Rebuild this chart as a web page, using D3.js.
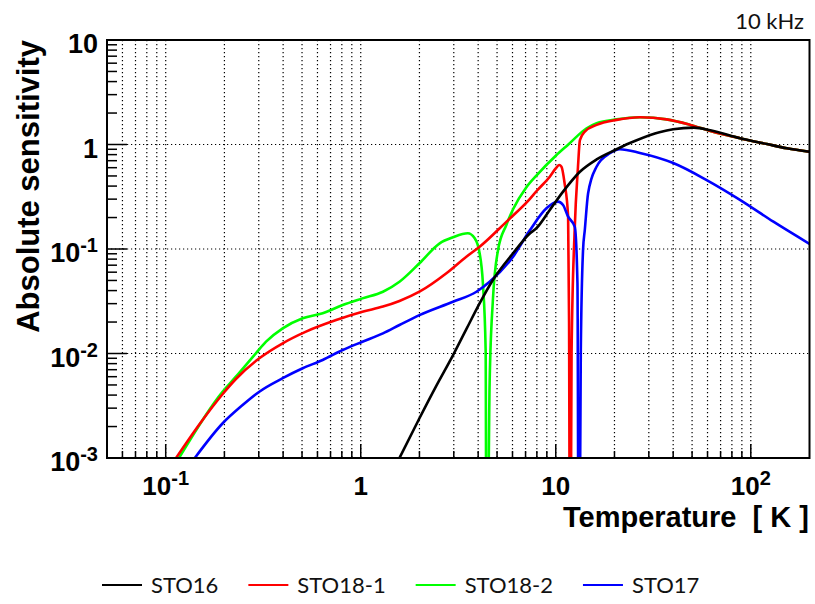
<!DOCTYPE html>
<html>
<head>
<meta charset="utf-8">
<title>Absolute sensitivity vs temperature</title>
<script src="https://cdn.jsdelivr.net/npm/d3@7"></script>
<style>
  body { margin: 0; background: #ffffff; }
  svg text { font-family: "Liberation Sans", Arial, Helvetica, sans-serif; }
  .legend text, .note { font-family: Lato, "Open Sans", sans-serif; }
</style>
</head>
<body>
<svg id="chart" width="815" height="604"></svg>
<script>
// sensitivity curves at 10 kHz, temperature in K
const seriesNames = ["STO16", "STO18-1", "STO18-2", "STO17"];
const seriesColors = ["#000000", "#ff0000", "#00ff00", "#0000ff"];

const sto16T = [1.58, 2.0, 2.44, 2.97, 3.48, 4.07, 4.76, 6.04, 7.36, 7.96, 9.32, 10.9, 13.3, 16.2, 20.5, 23, 26, 34, 40, 51, 62, 88, 121, 153, 200];
const sto16S = [0.001, 0.0024, 0.0049, 0.0096, 0.0171, 0.0302, 0.0505, 0.091, 0.141, 0.158, 0.236, 0.354, 0.549, 0.72, 0.90, 1.0, 1.10, 1.31, 1.40, 1.45, 1.37, 1.15, 1.01, 0.92, 0.853];

const sto181T = [0.113, 0.148, 0.196, 0.229, 0.302, 0.398, 0.524, 0.748, 1.02, 1.30, 1.58, 2.0, 2.75, 3.48, 4.07, 5.58, 7.35, 8.0, 9.32, 10.0, 10.4, 10.7, 11.1, 11.57, 11.7, 11.85, 12.05, 12.5, 13.0, 13.3, 14.1, 16.2, 20.5, 27, 37, 49, 62, 88, 121, 153, 200];
const sto181S = [0.001, 0.00207, 0.0041, 0.0057, 0.0090, 0.01253, 0.0162, 0.0209, 0.0251, 0.0281, 0.0318, 0.039, 0.0586, 0.0844, 0.105, 0.182, 0.300, 0.361, 0.492, 0.59, 0.637, 0.613, 0.425, 0.204, 0.02, 0.00001, 0.01, 0.152, 0.613, 1.10, 1.33, 1.54, 1.72, 1.82, 1.74, 1.54, 1.35, 1.15, 1.01, 0.92, 0.853];

const sto182T = [0.117, 0.196, 0.229, 0.290, 0.327, 0.398, 0.504, 0.638, 0.808, 1.02, 1.30, 1.58, 2.0, 2.54, 2.97, 3.54, 3.84, 4.07, 4.23, 4.37, 4.42, 4.58, 4.76, 5.06, 5.58, 6.04, 7.07, 8.0, 10.0, 11.6, 14.4, 16.2, 20.5, 27, 37, 49, 62, 88, 121, 153, 200];
const sto182S = [0.001, 0.00432, 0.0060, 0.01005, 0.01297, 0.0174, 0.0217, 0.0243, 0.0291, 0.0337, 0.039, 0.0486, 0.073, 0.1134, 0.1294, 0.1413, 0.1266, 0.091, 0.047, 0.0108, 0.00001, 0.0052, 0.0325, 0.098, 0.17, 0.24, 0.39, 0.51, 0.78, 1.0, 1.43, 1.6, 1.74, 1.82, 1.74, 1.54, 1.35, 1.15, 1.01, 0.92, 0.853];

const sto17T = [0.141, 0.196, 0.248, 0.302, 0.398, 0.504, 0.638, 0.808, 1.02, 1.30, 1.58, 2.0, 2.97, 3.92, 4.58, 6.04, 7.35, 8.96, 10.27, 10.9, 11.57, 12.52, 12.92, 13.13, 13.44, 13.8, 14.09, 14.65, 16.18, 18.94, 21.3, 27, 40, 59.4, 88.4, 130.6, 200];
const sto17S = [0.001, 0.00215, 0.00321, 0.00431, 0.0058, 0.00722, 0.00867, 0.0108, 0.01297, 0.0156, 0.01875, 0.0233, 0.0313, 0.039, 0.0486, 0.0844, 0.150, 0.245, 0.284, 0.264, 0.204, 0.163, 0.047, 0.00001, 0.0108, 0.0978, 0.152, 0.341, 0.613, 0.824, 0.90, 0.83, 0.665, 0.457, 0.294, 0.1825, 0.112];

const xTickValues = [0.1, 1, 10, 100];
const xTickLabels = ["10^-1", "1", "10", "10^2"];
const yTickValues = [0.001, 0.01, 0.1, 1, 10];
const yTickLabels = ["10^-3", "10^-2", "10^-1", "1", "10"];

window.onload = function() {
    const svg = d3.select("#chart");

    const plot = {left: 107, right: 809.5, top: 40, bottom: 458};

    const x = d3.scaleLog()
                .domain([0.05, 200])
                .range([plot.left, plot.right]);

    const y = d3.scaleLog()
                .domain([1e-3, 10])
                .range([plot.bottom, plot.top]);

    svg.append("rect")
       .attr("width", 815)
       .attr("height", 604)
       .attr("fill", "#ffffff");

    // every 1..9 step inside the x range, and 1..9 per decade on y
    const xSteps = [];
    [0.01, 0.1, 1, 10, 100].forEach(d => {
        for (let k = 1; k <= 9; k++) {
            const v = +(k * d).toPrecision(3);
            if (v > 0.05 && v < 200) xSteps.push(v);
        }
    });
    const ySteps = [];
    [0.001, 0.01, 0.1, 1].forEach(d => {
        for (let k = 1; k <= 9; k++) ySteps.push(+(k * d).toPrecision(3));
    });
    const isDecade = v => Math.abs(Math.log10(v) - Math.round(Math.log10(v))) < 1e-6;

    // dotted grid
    svg.append("g")
       .selectAll("line")
       .data(xSteps)
       .enter()
       .append("line")
       .attr("x1", d => x(d))
       .attr("x2", d => x(d))
       .attr("y1", plot.top)
       .attr("y2", plot.bottom)
       .attr("stroke", "#000")
       .attr("stroke-width", 1.2)
       .attr("stroke-dasharray", "1.2,2.8");

    svg.append("g")
       .selectAll("line")
       .data([0.01, 0.1, 1])
       .enter()
       .append("line")
       .attr("x1", plot.left)
       .attr("x2", plot.right)
       .attr("y1", d => y(d))
       .attr("y2", d => y(d))
       .attr("stroke", "#000")
       .attr("stroke-width", 1.2)
       .attr("stroke-dasharray", "1.2,2.8");

    // inward ticks on the bottom and left axes
    svg.append("g")
       .selectAll("line")
       .data(xSteps)
       .enter()
       .append("line")
       .attr("x1", d => x(d))
       .attr("x2", d => x(d))
       .attr("y1", plot.bottom)
       .attr("y2", d => plot.bottom - (isDecade(d) ? 14 : 7))
       .attr("stroke", "#000")
       .attr("stroke-width", 1.5);

    svg.append("g")
       .selectAll("line")
       .data(ySteps.filter(d => d > 0.001))
       .enter()
       .append("line")
       .attr("x1", plot.left)
       .attr("x2", d => plot.left + (isDecade(d) ? 20 : 10))
       .attr("y1", d => y(d))
       .attr("y2", d => y(d))
       .attr("stroke", "#000")
       .attr("stroke-width", 1.5);

    // curves
    svg.append("clipPath")
       .attr("id", "plot-clip")
       .append("rect")
       .attr("x", plot.left)
       .attr("y", plot.top)
       .attr("width", plot.right - plot.left)
       .attr("height", plot.bottom - plot.top);

    const series = [
        {name: seriesNames[0], color: seriesColors[0], T: sto16T, S: sto16S},
        {name: seriesNames[1], color: seriesColors[1], T: sto181T, S: sto181S},
        {name: seriesNames[2], color: seriesColors[2], T: sto182T, S: sto182S},
        {name: seriesNames[3], color: seriesColors[3], T: sto17T, S: sto17S}
    ];

    const line = d3.line()
                   .x(d => x(d[0]))
                   .y(d => y(d[1]))
                   .curve(d3.curveMonotoneX);

    const drawOrder = [2, 1, 3, 0];

    svg.append("g")
       .attr("clip-path", "url(#plot-clip)")
       .selectAll("path")
       .data(drawOrder.map(i => series[i]))
       .enter()
       .append("path")
       .attr("d", d => line(d.T.map((t, i) => [t, d.S[i]])))
       .attr("fill", "none")
       .attr("stroke", d => d.color)
       .attr("stroke-width", 2.6)
       .attr("stroke-linejoin", "round");

    // frame
    svg.append("rect")
       .attr("x", plot.left)
       .attr("y", plot.top)
       .attr("width", plot.right - plot.left)
       .attr("height", plot.bottom - plot.top)
       .attr("fill", "none")
       .attr("stroke", "#000")
       .attr("stroke-width", 2);

    // tick labels, "10^n" gets a raised exponent
    function powerLabel(sel, label) {
        const parts = label.split("^");
        sel.append("tspan").text(parts[0]);
        if (parts.length > 1) {
            sel.append("tspan")
               .attr("dy", -10)
               .attr("font-size", 20)
               .text(parts[1]);
        }
    }

    svg.append("g")
       .selectAll("text")
       .data(xTickValues)
       .enter()
       .append("text")
       .attr("x", d => x(d))
       .attr("y", 495)
       .attr("text-anchor", "middle")
       .attr("font-size", 26)
       .attr("font-weight", "bold")
       .each(function(d, i) { powerLabel(d3.select(this), xTickLabels[i]); });

    svg.append("g")
       .selectAll("text")
       .data(yTickValues)
       .enter()
       .append("text")
       .attr("x", 98)
       .attr("y", d => y(d) + 13)
       .attr("text-anchor", "end")
       .attr("font-size", 27)
       .attr("font-weight", "bold")
       .each(function(d, i) { powerLabel(d3.select(this), yTickLabels[i]); });

    // axis titles
    svg.append("text")
       .attr("x", 809)
       .attr("y", 527)
       .attr("text-anchor", "end")
       .attr("font-size", 29)
       .attr("font-weight", "bold")
       .attr("xml:space", "preserve")
       .text("Temperature  [ K ]");

    svg.append("text")
       .attr("transform", "translate(39,40) rotate(-90)")
       .attr("text-anchor", "end")
       .attr("font-size", 31)
       .attr("font-weight", "bold")
       .text("Absolute sensitivity");

    svg.append("text")
       .attr("class", "note")
       .attr("x", 804)
       .attr("y", 29)
       .attr("text-anchor", "end")
       .attr("font-size", 22)
       .attr("fill", "#111")
       .text("10 kHz");

    // legend row under the plot
    const legend = svg.append("g").attr("class", "legend");
    let cursor = 102;
    series.forEach(s => {
        legend.append("line")
              .attr("x1", cursor)
              .attr("x2", cursor + 40)
              .attr("y1", 585)
              .attr("y2", 585)
              .attr("stroke", s.color)
              .attr("stroke-width", 2.2);
        const label = legend.append("text")
                            .attr("x", cursor + 49)
                            .attr("y", 593)
                            .attr("font-size", 22)
                            .attr("fill", "#111")
                            .text(s.name);
        cursor += 49 + label.node().getComputedTextLength() + 30;
    });
};
</script>
</body>
</html>
